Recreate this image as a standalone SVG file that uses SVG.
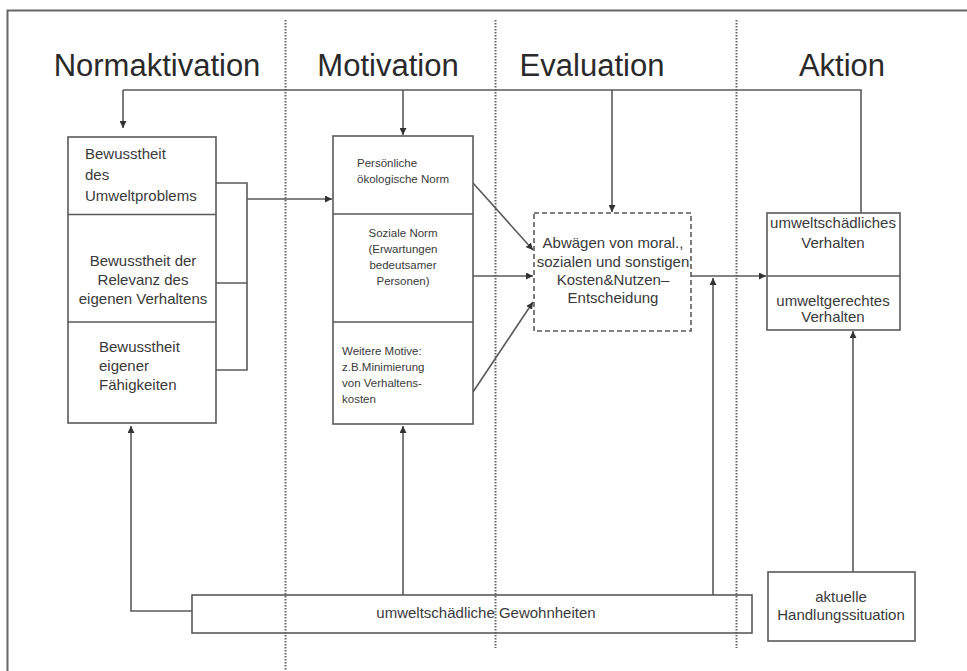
<svg xmlns="http://www.w3.org/2000/svg" width="967" height="671" viewBox="0 0 967 671">
<style>
text{font-family:"Liberation Sans",Arial,sans-serif;fill:#3a3a3a}
.h{font-size:31px;text-anchor:middle;fill:#2a2a2a}
.t{font-size:15px}
.s{font-size:11.5px}
.c{text-anchor:middle}
.box{fill:#fff;stroke:#5a5a5a;stroke-width:1.6}
.ln{fill:none;stroke:#5a5a5a;stroke-width:1.6}
.dot{fill:none;stroke:#666;stroke-width:2;stroke-dasharray:1.4 1.6}
.dash{fill:#fff;stroke:#5a5a5a;stroke-width:1.6;stroke-dasharray:5 3}
</style>
<defs>
<marker id="ar" viewBox="0 0 10 10" refX="10" refY="5" markerWidth="7" markerHeight="7" orient="auto" markerUnits="userSpaceOnUse">
<path d="M0,0 L10,5 L0,10 z" fill="#333"/>
</marker>
</defs>
<rect width="967" height="671" fill="#fff"/>
<g id="frame">
<path d="M7.5,671 V10.5 H967" fill="none" stroke="#666" stroke-width="2"/>
</g>
<g id="phases">
<text class="h" x="157" y="76">Normaktivation</text>
<text class="h" x="388" y="76">Motivation</text>
<text class="h" x="592" y="76">Evaluation</text>
<text class="h" x="842" y="76">Aktion</text>
<path class="dot" d="M285.5,20 V671 M495.5,20 V648 M736.5,20 V648"/>
</g>
<g id="connectors">
<path class="ln" d="M123,90 H861 V213"/>
<path class="ln" d="M123,90 V128" marker-end="url(#ar)"/>
<path class="ln" d="M403,90 V135" marker-end="url(#ar)"/>
<path class="ln" d="M612,90 V212" marker-end="url(#ar)"/>
<path class="ln" d="M216,183 H247 V370 H216 M216,283 H247"/>
<path class="ln" d="M247,199 H332" marker-end="url(#ar)"/>
<path class="ln" d="M473,183 L533,250" marker-end="url(#ar)"/>
<path class="ln" d="M473,276 H533" marker-end="url(#ar)"/>
<path class="ln" d="M473,392 L533,302" marker-end="url(#ar)"/>
<path class="ln" d="M691,276 H766" marker-end="url(#ar)"/>
<path class="ln" d="M713,595 V278" marker-end="url(#ar)"/>
<path class="ln" d="M192,611 H131 V426" marker-end="url(#ar)"/>
<path class="ln" d="M403,595 V426" marker-end="url(#ar)"/>
<path class="ln" d="M853,572 V331" marker-end="url(#ar)"/>
</g>
<g id="normaktivation">
<rect class="box" x="68" y="137" width="148" height="286"/>
<path class="ln" d="M68,214.5 H216 M68,322 H216"/>
<text class="t" x="85" y="159">Bewusstheit</text>
<text class="t" x="85" y="180">des</text>
<text class="t" x="85" y="201">Umweltproblems</text>
<text class="t c" x="143" y="266">Bewusstheit der</text>
<text class="t c" x="143" y="285">Relevanz des</text>
<text class="t c" x="143" y="304">eigenen Verhaltens</text>
<text class="t" x="99" y="352">Bewusstheit</text>
<text class="t" x="99" y="371">eigener</text>
<text class="t" x="99" y="390">Fähigkeiten</text>
</g>
<g id="motivation">
<rect class="box" x="333" y="136" width="140" height="288"/>
<path class="ln" d="M333,214 H473 M333,322 H473"/>
<text class="s" x="357" y="167">Persönliche</text>
<text class="s" x="357" y="183">ökologische Norm</text>
<text class="s c" x="403" y="237">Soziale Norm</text>
<text class="s c" x="403" y="253">(Erwartungen</text>
<text class="s c" x="403" y="269">bedeutsamer</text>
<text class="s c" x="403" y="285">Personen)</text>
<text class="s" x="342" y="355">Weitere Motive:</text>
<text class="s" x="342" y="371">z.B.Minimierung</text>
<text class="s" x="342" y="387">von Verhaltens-</text>
<text class="s" x="342" y="403">kosten</text>
</g>
<g id="evaluation">
<rect class="dash" x="534" y="213" width="157" height="118"/>
<text class="t c" x="613" y="248">Abwägen von moral.,</text>
<text class="t c" x="613" y="267">sozialen und sonstigen</text>
<text class="t c" x="613" y="285">Kosten&amp;Nutzen–</text>
<text class="t c" x="613" y="303">Entscheidung</text>
</g>
<g id="aktion">
<rect class="box" x="767" y="213" width="133" height="117"/>
<path class="ln" d="M767,276 H900"/>
<text class="t c" x="833" y="228">umweltschädliches</text>
<text class="t c" x="833" y="248">Verhalten</text>
<text class="t c" x="833" y="306">umweltgerechtes</text>
<text class="t c" x="833" y="322">Verhalten</text>
</g>
<g id="gewohnheiten">
<rect class="box" x="192" y="595" width="560" height="38" fill-opacity="0"/>
<text class="t c" x="486" y="618">umweltschädliche Gewohnheiten</text>
</g>
<g id="situation">
<rect class="box" x="768" y="572" width="147" height="69"/>
<text class="t c" x="841" y="602">aktuelle</text>
<text class="t c" x="841" y="620">Handlungssituation</text>
</g>
</svg>
